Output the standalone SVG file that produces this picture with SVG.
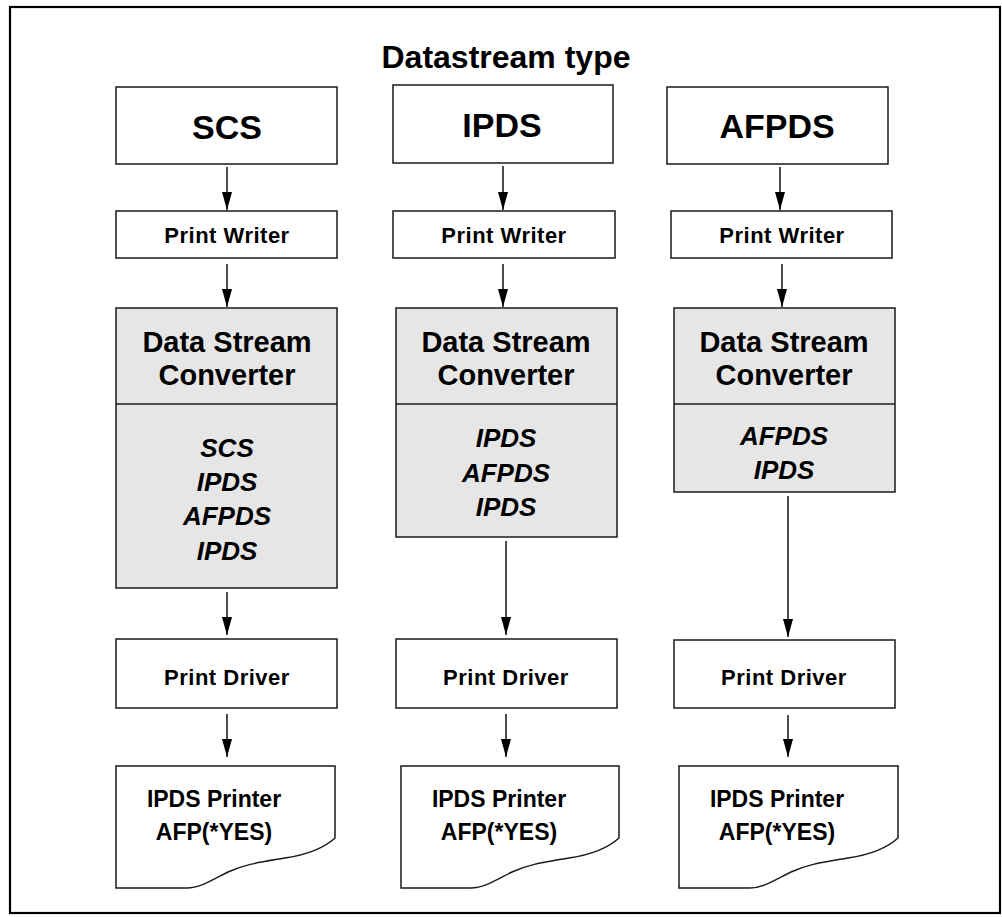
<svg xmlns="http://www.w3.org/2000/svg" width="1002" height="917" viewBox="0 0 1002 917">
<style>
.box{fill:#fff;stroke:#1a1a1a;stroke-width:1.5}
.gbox{fill:#e6e6e6;stroke:#1a1a1a;stroke-width:1.5}
.t{font-family:"Liberation Sans",Arial,Helvetica,sans-serif;font-weight:bold;fill:#000;text-anchor:middle}
.it{font-style:italic}
.conn line{stroke:#000;stroke-width:1.4}
</style>
<defs>
<marker id="ah" markerWidth="18" markerHeight="10" refX="18" refY="5" orient="auto" markerUnits="userSpaceOnUse" viewBox="0 0 18 10">
<path d="M0,0 L18,5 L0,10 Z" fill="#000"/>
</marker>
</defs>
<rect x="0" y="0" width="1002" height="917" fill="#fff"/>
<rect x="10" y="7" width="990" height="906" fill="none" stroke="#000" stroke-width="2.2"/>
<text class="t" x="506" y="68" font-size="32">Datastream type</text>

<g id="scs-src"><rect class="box" x="116" y="87" width="221" height="77"/><text class="t" x="227" y="139" font-size="34">SCS</text></g>
<g id="ipds-src"><rect class="box" x="393" y="85" width="220" height="78"/><text class="t" x="502" y="137" font-size="34">IPDS</text></g>
<g id="afpds-src"><rect class="box" x="667" y="87" width="221" height="77"/><text class="t" x="777" y="138" font-size="34">AFPDS</text></g>

<g id="scs-pw"><rect class="box" x="116" y="211" width="221" height="47"/><text class="t" x="227" y="243" font-size="22" letter-spacing="0.5">Print Writer</text></g>
<g id="ipds-pw"><rect class="box" x="393" y="211" width="222" height="47"/><text class="t" x="504" y="243" font-size="22" letter-spacing="0.5">Print Writer</text></g>
<g id="afpds-pw"><rect class="box" x="671" y="211" width="221" height="47"/><text class="t" x="782" y="243" font-size="22" letter-spacing="0.5">Print Writer</text></g>

<g id="scs-dsc">
<rect class="gbox" x="116" y="308" width="221" height="280"/><line x1="116" y1="404" x2="337" y2="404" stroke="#1a1a1a" stroke-width="1.5"/>
<text class="t" x="227" y="352" font-size="29">Data Stream</text><text class="t" x="227" y="385" font-size="29">Converter</text>
<text class="t it" x="227" y="457" font-size="26">SCS</text><text class="t it" x="227" y="491" font-size="26">IPDS</text><text class="t it" x="227" y="525" font-size="26">AFPDS</text><text class="t it" x="227" y="560" font-size="26">IPDS</text>
</g>
<g id="ipds-dsc">
<rect class="gbox" x="396" y="308" width="221" height="229"/><line x1="396" y1="404" x2="617" y2="404" stroke="#1a1a1a" stroke-width="1.5"/>
<text class="t" x="506" y="352" font-size="29">Data Stream</text><text class="t" x="506" y="385" font-size="29">Converter</text>
<text class="t it" x="506" y="447" font-size="26">IPDS</text><text class="t it" x="506" y="482" font-size="26">AFPDS</text><text class="t it" x="506" y="516" font-size="26">IPDS</text>
</g>
<g id="afpds-dsc">
<rect class="gbox" x="674" y="308" width="221" height="184"/><line x1="674" y1="404" x2="895" y2="404" stroke="#1a1a1a" stroke-width="1.5"/>
<text class="t" x="784" y="352" font-size="29">Data Stream</text><text class="t" x="784" y="385" font-size="29">Converter</text>
<text class="t it" x="784" y="445" font-size="26">AFPDS</text><text class="t it" x="784" y="479" font-size="26">IPDS</text>
</g>

<g id="scs-pd"><rect class="box" x="116" y="639" width="221" height="69"/><text class="t" x="227" y="685" font-size="22" letter-spacing="0.5">Print Driver</text></g>
<g id="ipds-pd"><rect class="box" x="396" y="639" width="221" height="69"/><text class="t" x="506" y="685" font-size="22" letter-spacing="0.5">Print Driver</text></g>
<g id="afpds-pd"><rect class="box" x="674" y="640" width="221" height="68"/><text class="t" x="784" y="685" font-size="22" letter-spacing="0.5">Print Driver</text></g>

<g id="scs-printer"><path class="box" d="M116,766 H335 V838 C322,850 305,855 285,858 C262,862 245,864 228,872 C212,880 200,888 187,888 H116 Z"/>
<text class="t" x="214" y="807" font-size="23">IPDS Printer</text><text class="t" x="214" y="840" font-size="23">AFP(*YES)</text></g>
<g id="ipds-printer"><path class="box" d="M401,766 H619 V838 C606,850 589,855 569,858 C546,862 529,864 512,872 C496,880 484,888 471,888 H401 Z"/>
<text class="t" x="499" y="807" font-size="23">IPDS Printer</text><text class="t" x="499" y="840" font-size="23">AFP(*YES)</text></g>
<g id="afpds-printer"><path class="box" d="M679,766 H898 V838 C885,850 868,855 848,858 C825,862 808,864 791,872 C775,880 763,888 750,888 H679 Z"/>
<text class="t" x="777" y="807" font-size="23">IPDS Printer</text><text class="t" x="777" y="840" font-size="23">AFP(*YES)</text></g>

<g id="connectors" class="conn">
<line x1="227" y1="167" x2="227" y2="210" marker-end="url(#ah)"/>
<line x1="503" y1="166" x2="503" y2="210" marker-end="url(#ah)"/>
<line x1="780" y1="167" x2="780" y2="210" marker-end="url(#ah)"/>
<line x1="227" y1="264" x2="227" y2="307" marker-end="url(#ah)"/>
<line x1="503" y1="264" x2="503" y2="307" marker-end="url(#ah)"/>
<line x1="782" y1="264" x2="782" y2="307" marker-end="url(#ah)"/>
<line x1="227" y1="592" x2="227" y2="635" marker-end="url(#ah)"/>
<line x1="506" y1="541" x2="506" y2="635" marker-end="url(#ah)"/>
<line x1="788" y1="496" x2="788" y2="637" marker-end="url(#ah)"/>
<line x1="227" y1="714" x2="227" y2="757" marker-end="url(#ah)"/>
<line x1="506" y1="714" x2="506" y2="757" marker-end="url(#ah)"/>
<line x1="788" y1="715" x2="788" y2="757" marker-end="url(#ah)"/>
</g>
</svg>
